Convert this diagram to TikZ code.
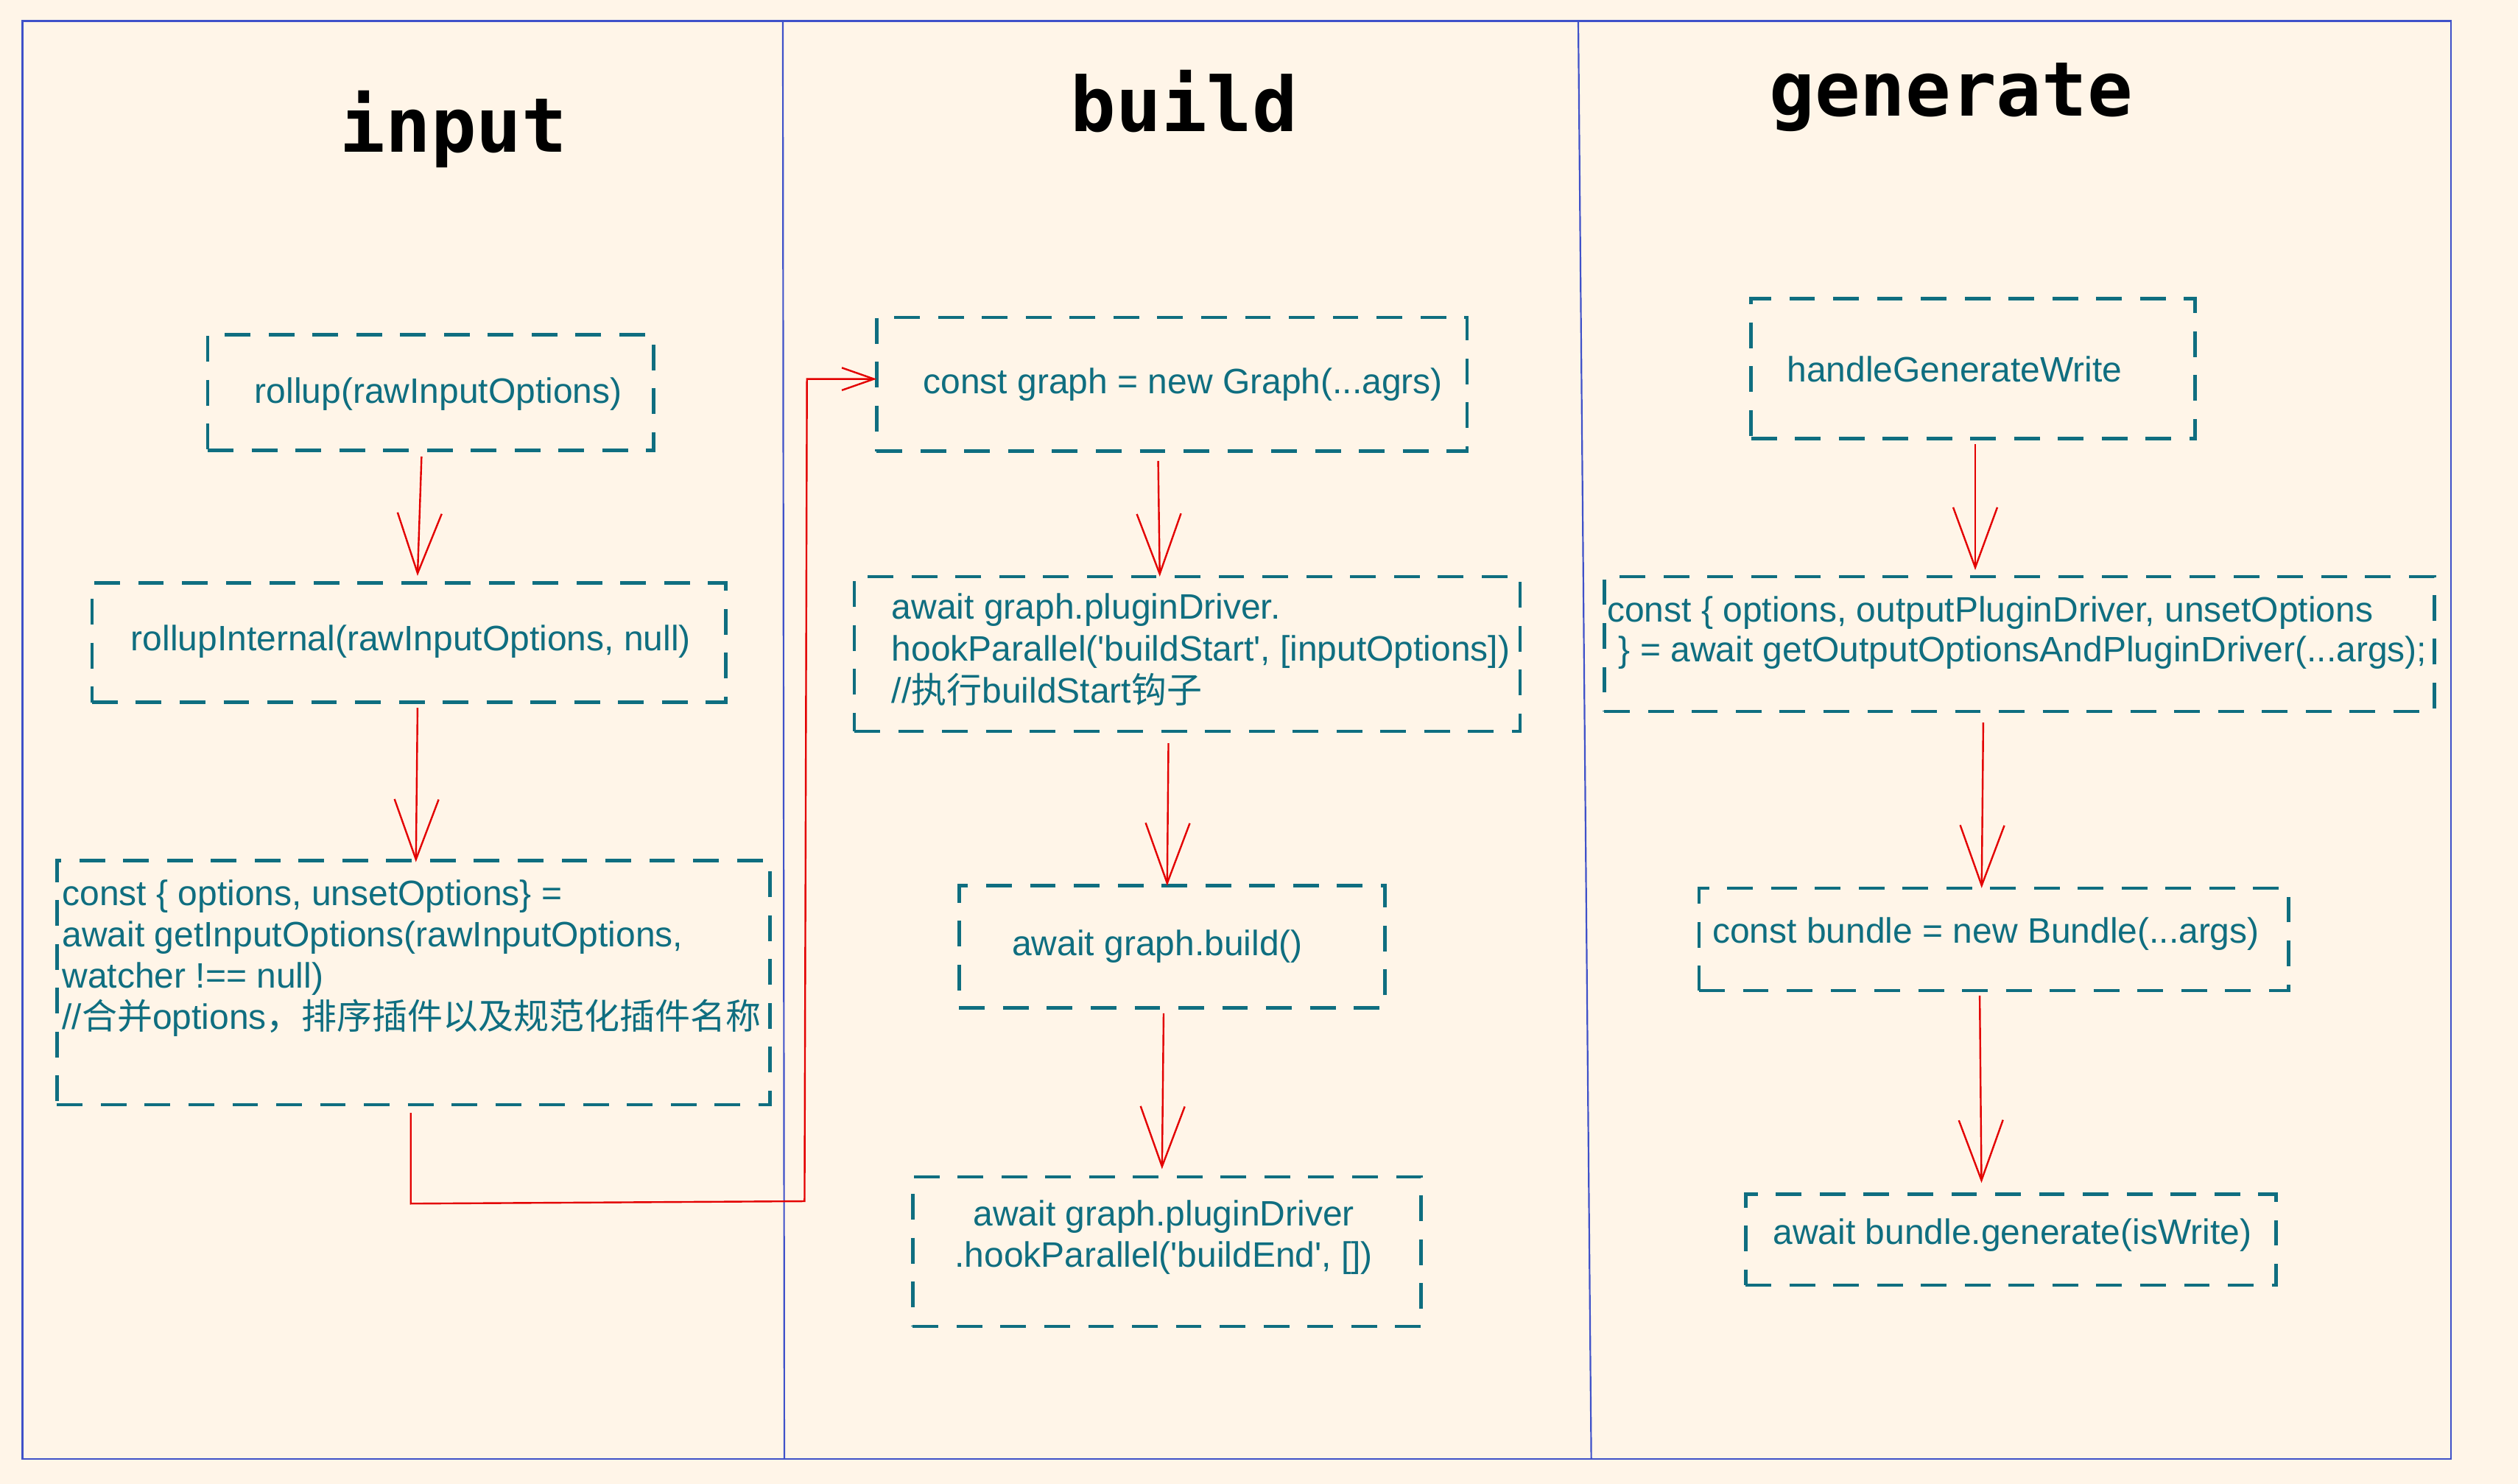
\documentclass[tikz,border=0pt]{standalone}
\usepackage{fontspec}
\setmainfont{Liberation Sans}[Ligatures=TeXOff]
\newfontfamily\titlefont{DejaVu Sans Mono}
\newfontfamily\cjk{Noto Sans CJK SC}
\newcommand{\cjkA}{\cjk\fontsize{22}{26}\selectfont}
\usetikzlibrary{arrows.meta}
\definecolor{bgc}{HTML}{FFF5E8}
\definecolor{tealc}{HTML}{0F6E80}
\definecolor{framec}{HTML}{3F51C9}
\definecolor{redc}{HTML}{E30000}
\tikzset{
  boxstyle/.style={draw=tealc, line width=2.1pt, dash pattern=on 16pt off 11.3pt, inner sep=0pt, outer sep=0pt},
  codetext/.style={text=tealc, font=\fontsize{22}{26}\selectfont, inner sep=0pt, outer sep=0pt, anchor=base west},
  titletext/.style={font=\titlefont\bfseries\fontsize{47}{50}\selectfont, inner sep=0pt, outer sep=0pt, anchor=base},
  conn/.style={draw=redc, line width=1.1pt, -{Straight Barb[length=37.5pt,width=27.5pt]}},
  connsmall/.style={draw=redc, line width=1.1pt, -{Straight Barb[length=20pt,width=14pt]}},
  frameline/.style={draw=framec, line width=1pt},
}
\begin{document}
\begin{tikzpicture}[x=1pt,y=-1pt]
\useasboundingbox (0,0) rectangle (1568,924.1);
\fill[bgc] (0,0) rectangle (1568,924.1);

% frame and column dividers
\draw[frameline] (14,13.1) rectangle (1526.3,908.4);
\draw[frameline] (487.5,13.1) -- (488.4,908.4);
\draw[frameline] (982.8,13.1) -- (990.9,908.4);

% titles
\node[titletext] (t1) at (282.5,94.8) {input};
\node[titletext] (t2) at (737.5,82) {build};
\node[titletext] (t3) at (1215,72) {generate};

% boxes
\node[boxstyle, minimum width=277.6pt, minimum height=72pt] (n1) at (268.2,244.5) {};
\node[boxstyle, minimum width=394.7pt, minimum height=74.3pt] (n2) at (254.65,400.15) {};
\node[boxstyle, minimum width=443.9pt, minimum height=152.2pt] (n3) at (257.45,611.9) {};
\node[boxstyle, minimum width=367.7pt, minimum height=83.3pt] (n4) at (729.75,239.35) {};
\node[boxstyle, minimum width=414.5pt, minimum height=96.3pt] (n5) at (739.25,407.15) {};
\node[boxstyle, minimum width=265pt, minimum height=76.1pt] (n6) at (729.8,589.65) {};
\node[boxstyle, minimum width=316.6pt, minimum height=93.2pt] (n7) at (726.7,779.4) {};
\node[boxstyle, minimum width=276.6pt, minimum height=87.2pt] (n8) at (1228.7,229.6) {};
\node[boxstyle, minimum width=516.8pt, minimum height=84pt] (n9) at (1257.4,401) {};
\node[boxstyle, minimum width=367pt, minimum height=63.9pt] (n10) at (1241.5,584.95) {};
\node[boxstyle, minimum width=330.3pt, minimum height=56.8pt] (n11) at (1252.15,771.9) {};

% texts
\node[codetext] (x1) at (158.6,251) {rollup(rawInputOptions)};
\node[codetext] (x2) at (81.6,405.3) {rollupInternal(rawInputOptions, null)};
\node[codetext] (x3a) at (38.8,564) {const \{ options, unsetOptions\} =};
\node[codetext] (x3b) at (38.8,589.5) {await getInputOptions(rawInputOptions,};
\node[codetext] (x3c) at (38.8,615) {watcher !== null)};
\node[codetext] (x3d) at (38.8,641) {//{\cjkA 合并}options{\cjkA ，排序插件以及规范化插件名称}};
\node[codetext] (x4) at (574.9,245) {const graph = new Graph(...agrs)};
\node[codetext] (x5a) at (555.3,385.3) {await graph.pluginDriver.};
\node[codetext] (x5b) at (555.3,411.6) {hookParallel('buildStart', [inputOptions])};
\node[codetext] (x5c) at (555.3,437.6) {//{\cjkA 执行}buildStart{\cjkA 钩子}};
\node[codetext] (x6) at (630.2,595) {await graph.build()};
\node[codetext, anchor=base] (x7a) at (724.7,763.3) {await graph.pluginDriver};
\node[codetext, anchor=base] (x7b) at (724.7,789) {.hookParallel('buildEnd', [])};
\node[codetext] (x8) at (1112.8,238) {handleGenerateWrite};
\node[codetext] (x9a) at (1000.8,387.2) {const \{ options, outputPluginDriver, unsetOptions};
\node[codetext] (x9b) at (1008,412) {\} = await getOutputOptionsAndPluginDriver(...args);};
\node[codetext] (x10) at (1066.3,587.2) {const bundle = new Bundle(...args)};
\node[codetext] (x11) at (1104.1,775) {await bundle.generate(isWrite)};

% connectors
\draw[conn] ([xshift=-5.7pt,yshift=-3.8pt]n1.south) -- ([xshift=5.35pt,yshift=4.4pt]n2.north);
\draw[conn] ([xshift=5.35pt,yshift=-3.5pt]n2.south) -- ([xshift=1.55pt,yshift=-1pt]n3.north);
\coordinate (c1) at (255.8,749.5);
\coordinate (c2) at (501,748);
\coordinate (c3) at (502.5,236);
\draw[connsmall] ([xshift=-1.65pt,yshift=-5pt]n3.south) -- (c1) -- (c2) -- (c3) -- ([yshift=3.35pt]n4.west);
\draw[conn] ([xshift=-8.55pt,yshift=-6pt]n4.south) -- ([xshift=-17.05pt]n5.north);
\draw[conn] ([xshift=-11.65pt,yshift=-7.5pt]n5.south) -- ([xshift=-3pt]n6.north);
\draw[conn] ([xshift=-5.2pt,yshift=-3.3pt]n6.south) -- ([xshift=-3.1pt,yshift=4.8pt]n7.north);
\draw[conn] ([xshift=1.3pt,yshift=-3.4pt]n8.south) -- ([xshift=-27.4pt,yshift=4pt]n9.north);
\draw[conn] ([xshift=-22.4pt,yshift=-7pt]n9.south) -- ([xshift=-7.5pt]n10.north);
\draw[conn] ([xshift=-8.7pt,yshift=-3.1pt]n10.south) -- ([xshift=-18.25pt,yshift=6.9pt]n11.north);
\end{tikzpicture}
\end{document}
